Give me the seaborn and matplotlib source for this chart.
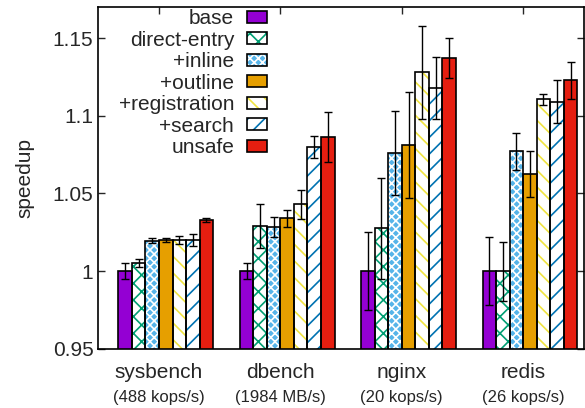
import numpy as np
import pandas as pd
import seaborn as sns
import matplotlib.pyplot as plt
from matplotlib.patches import Patch

# dane
benchmarks = ['sysbench', 'dbench', 'nginx', 'redis']
throughput = ['(488 kops/s)', '(1984 MB/s)', '(20 kops/s)', '(26 kops/s)']
variants = ['base', 'direct-entry', '+inline', '+outline', '+registration', '+search', 'unsafe']

speedup = {
    'base':          [1.000, 1.000, 1.000, 1.000],
    'direct-entry':  [1.005, 1.029, 1.0275, 1.000],
    '+inline':       [1.0195, 1.0285, 1.076, 1.077],
    '+outline':      [1.020, 1.034, 1.081, 1.0626],
    '+registration': [1.020, 1.043, 1.128, 1.1106],
    '+search':       [1.020, 1.080, 1.118, 1.109],
    'unsafe':        [1.033, 1.0864, 1.137, 1.1228],
}
errors = {
    'base':          [0.005, 0.005, 0.025, 0.022],
    'direct-entry':  [0.0025, 0.014, 0.0325, 0.019],
    '+inline':       [0.0017, 0.0063, 0.027, 0.012],
    '+outline':      [0.0015, 0.0055, 0.034, 0.0146],
    '+registration': [0.0027, 0.0093, 0.030, 0.0036],
    '+search':       [0.004, 0.007, 0.020, 0.014],
    'unsafe':        [0.0013, 0.016, 0.013, 0.0118],
}

# styl słupków
face = ['#9400d3', 'white', '#56b4e9', '#e69f00', 'white', 'white', '#e51e10']
hatch = [None, 'xx', 'xxxx', None, '\\\\', '//', None]
hatch_col = [None, '#009e73', 'white', None, '#f0e442', '#0072b2', None]

rows = []
for v in variants:
    for b, s in zip(benchmarks, speedup[v]):
        rows.append({'bench': b, 'variant': v, 'speedup': s})
df = pd.DataFrame(rows)

sns.set_style('white')
plt.rcParams['font.family'] = ['Liberation Sans', 'DejaVu Sans']
plt.rcParams['hatch.linewidth'] = 1.2

fig, ax = plt.subplots(figsize=(5.85, 4.08), dpi=100)
fig.subplots_adjust(left=0.168, right=0.998, bottom=0.145, top=0.983)

sns.barplot(data=df, x='bench', y='speedup', hue='variant', order=benchmarks,
            hue_order=variants, palette=face, width=0.78, errorbar=None,
            linewidth=0, saturation=1, legend=False, ax=ax)

for i, cont in enumerate(ax.containers):
    if hatch[i]:
        for p in cont:
            p.set_hatch(hatch[i])
            p.set_edgecolor(hatch_col[i])
            p.set_linewidth(0)

# obrys słupków
sns.barplot(data=df, x='bench', y='speedup', hue='variant', order=benchmarks,
            hue_order=variants, palette=['black'] * 7, width=0.78, errorbar=None,
            fill=False, linewidth=1.2, legend=False, ax=ax)

# słupki błędów
for i, v in enumerate(variants):
    cont = ax.containers[i]
    xs = [p.get_x() + p.get_width() / 2 for p in cont]
    ax.errorbar(xs, speedup[v], yerr=errors[v], fmt='none', ecolor='black',
                elinewidth=1, capsize=3, capthick=1, zorder=5)

ax.set_ylim(0.95, 1.17)
ax.set_yticks([0.95, 1.0, 1.05, 1.1, 1.15])
ax.set_yticklabels(['0.95', '1', '1.05', '1.1', '1.15'])
ax.set_xlim(-0.556, 3.444)
ax.set_xticks(np.arange(len(benchmarks)) - 0.056)
ax.set_xticklabels(benchmarks)
ax.set_xlabel('')
ax.set_ylabel('speedup', fontsize=15, labelpad=13)

ax.tick_params(axis='y', direction='in', left=True, right=True, length=5,
               labelsize=15, width=1)
ax.tick_params(axis='x', direction='in', bottom=False, top=True, length=5,
               labelsize=15, pad=10, width=1)
for s in ax.spines.values():
    s.set_linewidth(1.2)
    s.set_color('black')

for i, t in enumerate(throughput):
    ax.text(i - 0.056, -0.143, t, transform=ax.get_xaxis_transform(),
            ha='center', va='center', fontsize=12)

# legenda
handles = []
for i in range(len(variants)):
    fill = Patch(facecolor=face[i], hatch=hatch[i],
                 edgecolor=hatch_col[i] if hatch[i] else face[i], linewidth=0)
    edge = Patch(fill=False, edgecolor='black', linewidth=1.2)
    handles.append((fill, edge))
ax.legend(handles, variants, loc='upper left', bbox_to_anchor=(0.042, 0.993),
          frameon=False, markerfirst=False, fontsize=15, borderpad=0,
          borderaxespad=0, labelspacing=0.12, handlelength=0.96,
          handleheight=0.5, handletextpad=0.6)

plt.savefig('out.png', dpi=100)
